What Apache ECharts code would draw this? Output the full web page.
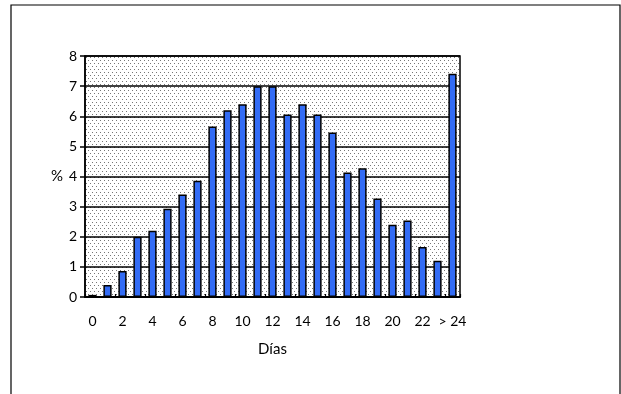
<!DOCTYPE html>
<html>
<head>
<meta charset="utf-8">
<script src="https://cdn.jsdelivr.net/npm/echarts@6/dist/echarts.min.js"></script>
<style>
  html, body { margin: 0; padding: 0; background: #fff; }
  #chart { width: 621px; height: 394px; }
</style>
</head>
<body>
<div id="chart"></div>
<script>
// dias (categorias) y porcentajes
const dias = ['0', '1', '2', '3', '4', '5', '6', '7', '8', '9', '10', '11', '12',
  '13', '14', '15', '16', '17', '18', '19', '20', '21', '22', '23', '> 24'];
const porcentaje = [0.07, 0.4, 0.86, 2.0, 2.2, 2.93, 3.4, 3.86, 5.66, 6.2, 6.4, 7.0, 7.0,
  6.06, 6.4, 6.06, 5.46, 4.13, 4.27, 3.27, 2.4, 2.54, 1.66, 1.2, 7.41];
const yTicks = [0, 1, 2, 3, 4, 5, 6, 7, 8];

const FONT = 'Lato, "DejaVu Sans", sans-serif';

// fondo punteado del area de trazado
function dotPattern() {
  const c = document.createElement('canvas');
  c.width = 4; c.height = 6;
  const ctx = c.getContext('2d');
  ctx.fillStyle = '#fff';
  ctx.fillRect(0, 0, 4, 6);
  ctx.fillStyle = '#777';
  ctx.fillRect(0, 0, 1, 1);
  ctx.fillRect(2, 3, 1, 1);
  return c;
}

const chart = echarts.init(document.getElementById('chart'), null, {renderer: 'canvas'});

chart.setOption({
  animation: false,
  backgroundColor: '#fff',
  graphic: [{
    type: 'rect',
    shape: {x: 11, y: 5, width: 609, height: 400},
    style: {fill: 'none', stroke: '#000', lineWidth: 1.2},
    silent: true
  }],
  grid: {
    left: 85, right: 161, top: 56, bottom: 97,
    show: true,
    backgroundColor: {image: dotPattern(), repeat: 'repeat'},
    borderColor: '#000',
    borderWidth: 1.5
  },
  xAxis: {
    type: 'category',
    data: dias,
    name: 'Días',
    nameLocation: 'middle',
    nameGap: 45,
    nameTextStyle: {fontFamily: FONT, fontSize: 15, color: '#000'},
    axisLine: {lineStyle: {color: '#000', width: 2}},
    axisTick: {show: true, inside: true, length: 3, lineStyle: {color: '#000', width: 1.2}},
    axisLabel: {
      interval: 1,
      margin: 17,
      fontFamily: FONT, fontSize: 14, color: '#000'
    }
  },
  yAxis: {
    type: 'value',
    min: yTicks[0],
    max: yTicks[yTicks.length - 1],
    interval: 1,
    name: '%',
    nameLocation: 'middle',
    nameRotate: 0,
    nameGap: 20,
    nameTextStyle: {fontFamily: FONT, fontSize: 15, color: '#000'},
    axisLine: {show: true, lineStyle: {color: '#000', width: 1.5}},
    axisTick: {show: true, length: 5, lineStyle: {color: '#000', width: 1.5}},
    axisLabel: {margin: 8, fontFamily: FONT, fontSize: 14, color: '#000'},
    splitLine: {show: true, lineStyle: {color: '#000', width: 1.5}}
  },
  series: [{
    type: 'bar',
    data: porcentaje,
    barWidth: '55%',
    itemStyle: {
      color: '#336cf5',
      borderColor: '#000',
      borderWidth: 1.5
    }
  }]
});
</script>
</body>
</html>
